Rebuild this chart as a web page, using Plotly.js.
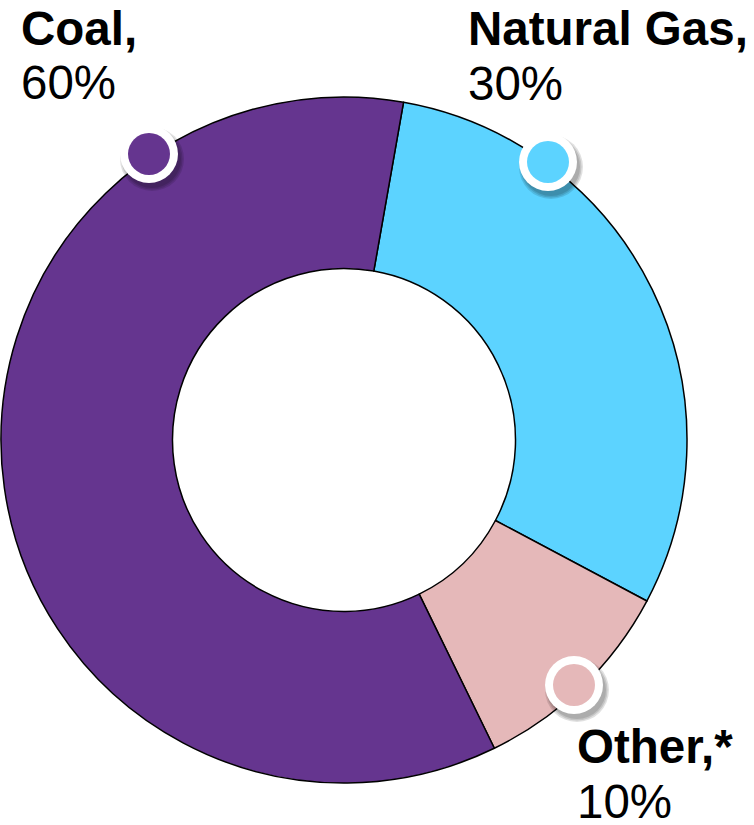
<!DOCTYPE html>
<html>
<head>
<meta charset="utf-8">
<script src="https://cdn.plot.ly/plotly-3.0.1.min.js"></script>
<style>
  html, body { margin: 0; padding: 0; background: #ffffff; }
  #chart { width: 754px; height: 825px; }
</style>
</head>
<body>
<div id="chart"></div>
<script>
// Share of electricity generation by source
const sources = ['Natural Gas', 'Other', 'Coal'];
const shares = [30, 10, 60];
const sliceColors = ['#5CD3FF', '#E5B8B9', '#65358F'];
const nameLines = ['Natural Gas,', 'Other,*', 'Coal,'];

const W = 754, H = 825;
const px = x => x / W;
const py = y => 1 - y / H;

// Label placement (pixels from top-left): name line top, value line top, left edge,
// and the marker dot beside each label
const labelPos = [
  { x: 468, yName: 2, yValue: 57, dotX: 548, dotY: 162 },
  { x: 577, yName: 720, yValue: 775, dotX: 574, dotY: 685 },
  { x: 21, yName: 2, yValue: 56, dotX: 149, dotY: 154 }
];

const pie = {
  type: 'pie',
  labels: sources,
  values: shares,
  sort: false,
  direction: 'clockwise',
  rotation: 10,
  hole: 0.5,
  textinfo: 'none',
  hoverinfo: 'label+percent',
  marker: { colors: sliceColors, line: { color: '#000000', width: 1.5 } },
  domain: { x: [px(1), px(687)], y: [py(783), py(97)] },
  showlegend: false
};

const font = { family: '"Liberation Sans", Arial, sans-serif', size: 47.5, color: '#000000' };
const annotations = [];
const shapes = [];

sources.forEach((s, i) => {
  const p = labelPos[i];
  annotations.push({
    xref: 'paper', yref: 'paper', x: px(p.x), y: py(p.yName),
    xanchor: 'left', yanchor: 'top', showarrow: false,
    borderpad: 0, borderwidth: 0,
    text: '<b>' + nameLines[i] + '</b>', font: font
  });
  annotations.push({
    xref: 'paper', yref: 'paper', x: px(p.x), y: py(p.yValue),
    xanchor: 'left', yanchor: 'top', showarrow: false,
    borderpad: 0, borderwidth: 0,
    text: shares[i] + '%', font: font
  });

  // soft drop shadow under the dot
  [32, 30.5, 29].forEach(r => {
    shapes.push({
      type: 'circle', xref: 'paper', yref: 'paper',
      xsizemode: 'pixel', ysizemode: 'pixel',
      xanchor: px(p.dotX + 3), yanchor: py(p.dotY + 5),
      x0: -r, x1: r, y0: -r, y1: r,
      fillcolor: 'rgba(0,0,0,0.12)', line: { width: 0 }
    });
  });
  // white ring
  shapes.push({
    type: 'circle', xref: 'paper', yref: 'paper',
    xsizemode: 'pixel', ysizemode: 'pixel',
    xanchor: px(p.dotX), yanchor: py(p.dotY),
    x0: -29, x1: 29, y0: -29, y1: 29,
    fillcolor: '#ffffff', line: { width: 0 }
  });
  // coloured centre
  shapes.push({
    type: 'circle', xref: 'paper', yref: 'paper',
    xsizemode: 'pixel', ysizemode: 'pixel',
    xanchor: px(p.dotX), yanchor: py(p.dotY),
    x0: -21, x1: 21, y0: -21, y1: 21,
    fillcolor: sliceColors[i], line: { width: 0 }
  });
});

const layout = {
  width: W, height: H,
  margin: { l: 0, r: 0, t: 0, b: 0 },
  paper_bgcolor: '#ffffff',
  plot_bgcolor: '#ffffff',
  annotations: annotations,
  shapes: shapes,
  showlegend: false
};

Plotly.newPlot('chart', [pie], layout, { displayModeBar: false, staticPlot: true });
</script>
</body>
</html>
